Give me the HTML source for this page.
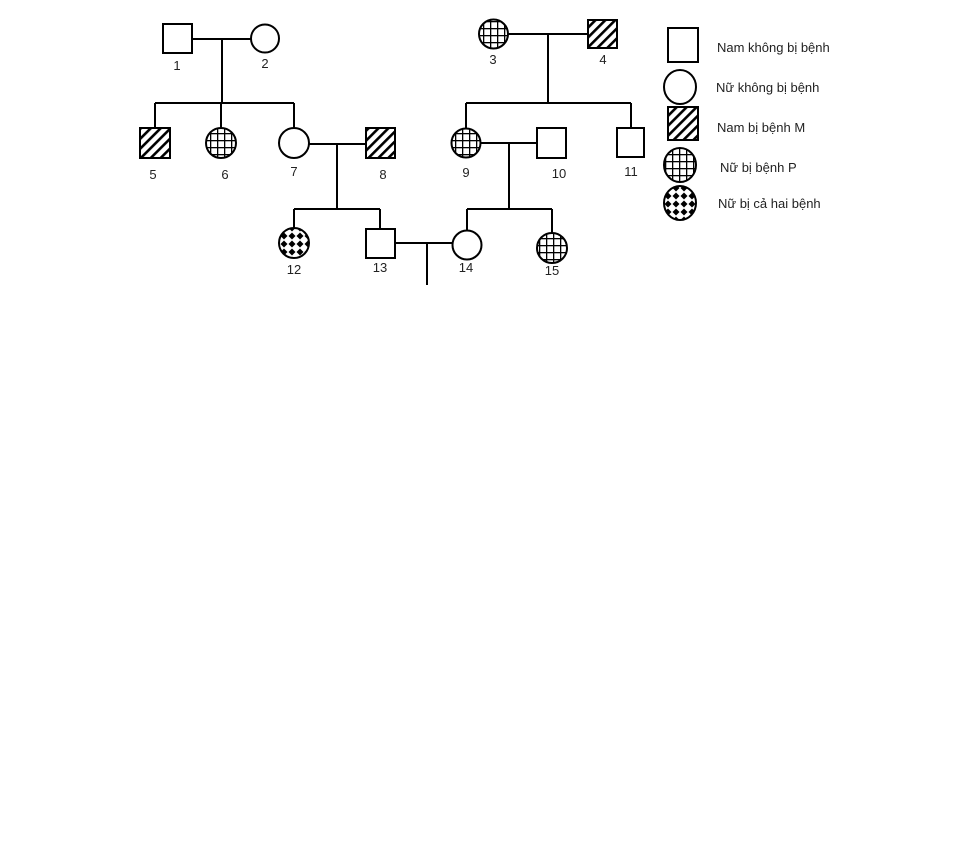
<!DOCTYPE html>
<html><head><meta charset="utf-8"><style>
html,body{margin:0;padding:0;background:#fff;}
svg{display:block;}
text{font-family:"Liberation Sans",sans-serif;font-size:13px;fill:#222;}
.n{font-size:13px;text-anchor:middle;}
</style></head><body>
<svg width="968" height="846" viewBox="0 0 968 846" xmlns="http://www.w3.org/2000/svg">
<defs>
<pattern id="h" width="7" height="7" patternUnits="userSpaceOnUse" patternTransform="rotate(45)">
<rect width="7" height="7" fill="#fff"/><rect x="0" y="0" width="2.6" height="7" fill="#000"/>
</pattern>
<pattern id="g" width="7" height="7" patternUnits="userSpaceOnUse" x="0" y="0">
<rect width="7" height="7" fill="#fff"/><rect x="0" y="0" width="1.3" height="7" fill="#000"/><rect x="0" y="0" width="7" height="1.3" fill="#000"/>
</pattern>
<pattern id="d" width="8" height="8" patternUnits="userSpaceOnUse">
<rect width="8" height="8" fill="#fff"/><path d="M4 0.5 L7.5 4 L4 7.5 L0.5 4Z" fill="#000"/>
</pattern>
</defs>
<g stroke="#000" stroke-width="2" fill="none">
<!-- lines -->
<line x1="192" y1="39" x2="251" y2="39"/><line x1="222" y1="39" x2="222" y2="103"/>
<line x1="155" y1="103" x2="294" y2="103"/>
<line x1="155" y1="103" x2="155" y2="128"/><line x1="221" y1="103" x2="221" y2="128"/><line x1="294" y1="103" x2="294" y2="128"/>
<line x1="309" y1="144" x2="366" y2="144"/><line x1="337" y1="144" x2="337" y2="209"/>
<line x1="294" y1="209" x2="380" y2="209"/><line x1="294" y1="209" x2="294" y2="228"/><line x1="380" y1="209" x2="380" y2="229"/>
<line x1="395" y1="243" x2="453" y2="243"/><line x1="427" y1="243" x2="427" y2="285"/>
<line x1="508" y1="34" x2="588" y2="34"/><line x1="548" y1="34" x2="548" y2="103"/>
<line x1="466" y1="103" x2="631" y2="103"/>
<line x1="466" y1="103" x2="466" y2="128"/><line x1="631" y1="103" x2="631" y2="128"/>
<line x1="480" y1="143" x2="537" y2="143"/><line x1="509" y1="143" x2="509" y2="209"/>
<line x1="467" y1="209" x2="552" y2="209"/><line x1="467" y1="209" x2="467" y2="230"/><line x1="552" y1="209" x2="552" y2="233"/>
<!-- shapes -->
<rect x="163" y="24" width="29" height="29" fill="#fff"/>
<circle cx="265" cy="38.5" r="14" fill="#fff"/>
<circle cx="493.5" cy="34" r="14.5" fill="url(#g)"/>
<rect x="588" y="20" width="29" height="28" fill="url(#h)"/>
<rect x="140" y="128" width="30" height="30" fill="url(#h)"/>
<circle cx="221" cy="143" r="15" fill="url(#g)"/>
<circle cx="294" cy="143" r="15" fill="#fff"/>
<rect x="366" y="128" width="29" height="30" fill="url(#h)"/>
<circle cx="466" cy="143" r="14.5" fill="url(#g)"/>
<rect x="537" y="128" width="29" height="30" fill="#fff"/>
<rect x="617" y="128" width="27" height="29" fill="#fff"/>
<circle cx="294" cy="243" r="15" fill="url(#d)"/>
<rect x="366" y="229" width="29" height="29" fill="#fff"/>
<circle cx="467" cy="245" r="14.5" fill="#fff"/>
<circle cx="552" cy="248" r="15" fill="url(#g)"/>
<!-- legend -->
<rect x="668" y="28" width="30" height="34" fill="#fff"/>
<ellipse cx="680" cy="87" rx="16" ry="17" fill="#fff"/>
<rect x="668" y="107" width="30" height="33" fill="url(#h)"/>
<ellipse cx="680" cy="165" rx="16" ry="17" fill="url(#g)"/>
<ellipse cx="680" cy="203" rx="16" ry="17" fill="url(#d)"/>
</g>
<text class="n" x="177" y="70">1</text>
<text class="n" x="265" y="68">2</text>
<text class="n" x="493" y="64">3</text>
<text class="n" x="603" y="64">4</text>
<text class="n" x="153" y="179">5</text>
<text class="n" x="225" y="179">6</text>
<text class="n" x="294" y="176">7</text>
<text class="n" x="383" y="179">8</text>
<text class="n" x="466" y="177">9</text>
<text class="n" x="559" y="178">10</text>
<text class="n" x="631" y="176">11</text>
<text class="n" x="294" y="274">12</text>
<text class="n" x="380" y="272">13</text>
<text class="n" x="466" y="272">14</text>
<text class="n" x="552" y="275">15</text>
<text x="717" y="52">Nam không bị bệnh</text>
<text x="716" y="92">Nữ không bị bệnh</text>
<text x="717" y="132">Nam bị bệnh M</text>
<text x="720" y="172">Nữ bị bệnh P</text>
<text x="718" y="208">Nữ bị cả hai bệnh</text>
</svg>
</body></html>
